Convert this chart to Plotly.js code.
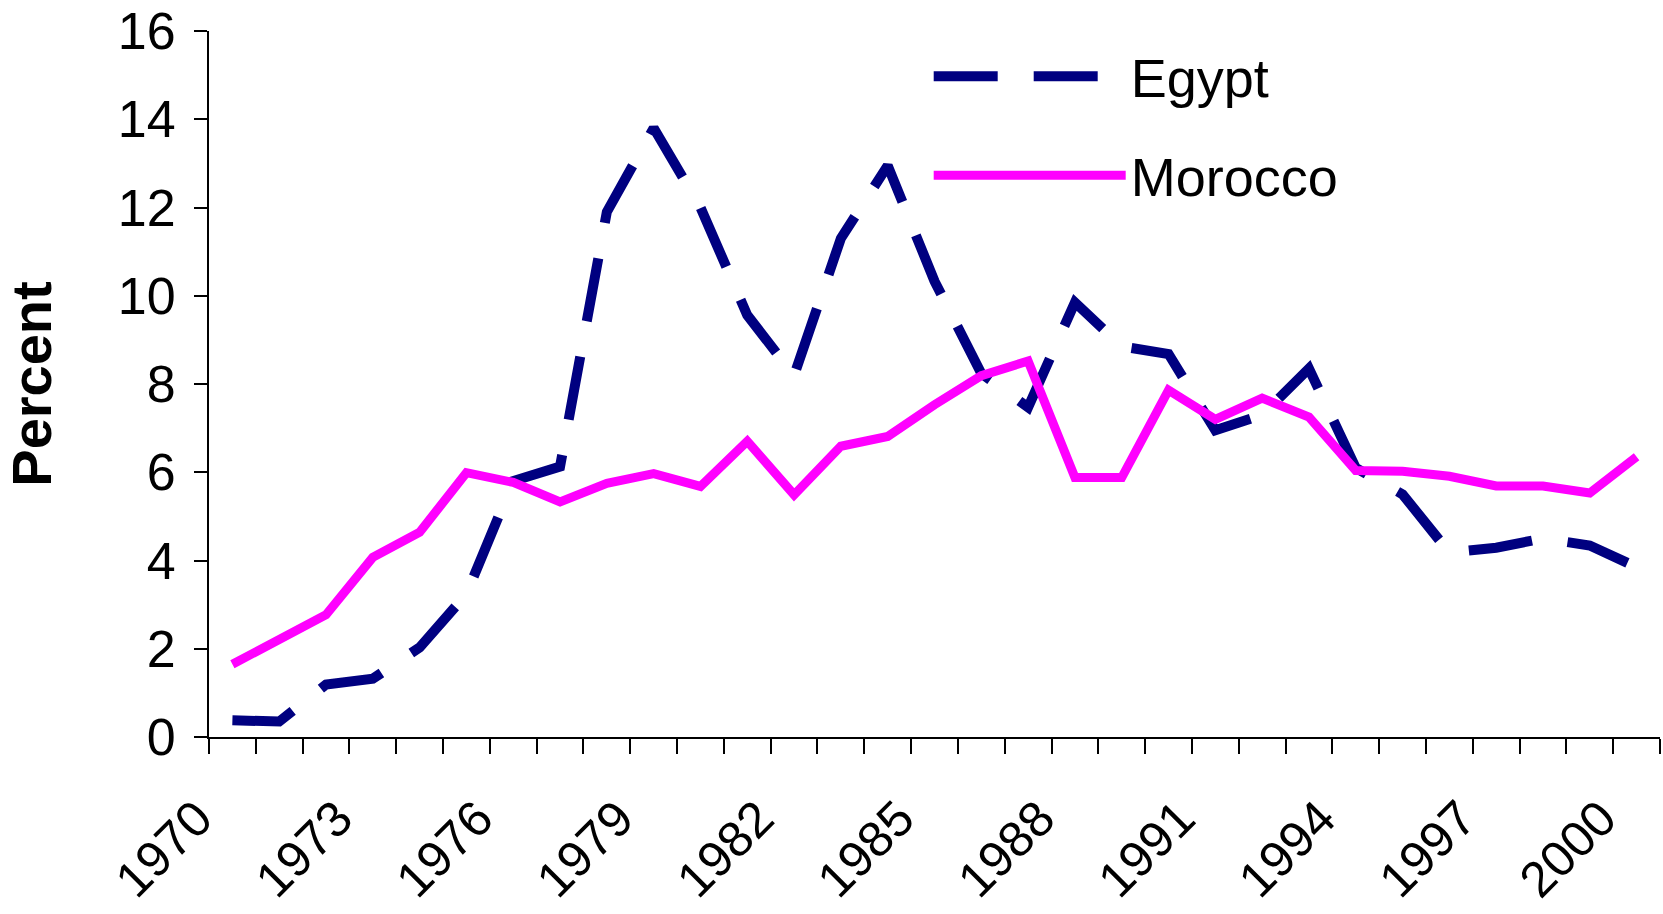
<!DOCTYPE html>
<html>
<head>
<meta charset="utf-8">
<script src="https://cdn.plot.ly/plotly-3.0.1.min.js"></script>
<style>html,body{margin:0;padding:0;background:#fff;}#chart{width:1663px;height:914px;}</style>
</head>
<body>
<div id="chart"></div>
<script>
const years = [1970,1971,1972,1973,1974,1975,1976,1977,1978,1979,1980,1981,1982,1983,1984,1985,1986,1987,1988,1989,1990,1991,1992,1993,1994,1995,1996,1997,1998,1999,2000];
const egypt = [0.38,0.35,1.19,1.32,2.03,3.24,5.8,6.13,11.9,13.8,12.0,9.56,8.19,11.3,12.95,10.33,8.24,7.47,9.85,8.85,8.68,6.95,7.3,8.35,6.1,5.5,4.18,4.29,4.5,4.34,3.85];
const morocco = [1.65,2.22,2.77,4.07,4.64,5.99,5.77,5.33,5.75,5.97,5.68,6.7,5.49,6.59,6.81,7.53,8.19,8.52,5.88,5.88,7.86,7.2,7.68,7.25,6.04,6.02,5.91,5.69,5.69,5.53,6.35];
const tickYears = years.filter((y, i) => i % 3 === 0);
const seriesNames = ['Egypt', 'Morocco'];

const FONT = 'Liberation Sans, Arial, sans-serif';

const traces = [
  {x: years, y: egypt, name: seriesNames[0], type: 'scatter', mode: 'lines',
   line: {color: '#000080', width: 10, dash: '64px,36px'}, legendgroup: 'a'},
  {x: years, y: morocco, name: seriesNames[1], type: 'scatter', mode: 'lines',
   line: {color: '#FF00FF', width: 9}, legendgroup: 'b'}
];

const layout = {
  width: 1663, height: 914,
  margin: {l: 209, r: 3, t: 31, b: 177},
  paper_bgcolor: '#fff', plot_bgcolor: '#fff',
  font: {family: FONT, color: '#000', size: 52},
  showlegend: true,
  legend: {x: 0.496, y: 0.995, xanchor: 'left', yanchor: 'top', bgcolor: 'rgba(0,0,0,0)',
           font: {family: FONT, size: 54, color: '#000'}, itemwidth: 192, tracegroupgap: 26,
           traceorder: 'grouped'},
  xaxis: {
    type: 'linear', range: [1969.5, 2000.5], tickmode: 'array', tickvals: tickYears,
    ticktext: tickYears.map(String), tickangle: -45, ticks: '', showgrid: false, zeroline: false,
    showline: true, linecolor: '#000', linewidth: 2,
    ticklabelstandoff: 30, ticklabelshift: -35,
    tickfont: {family: FONT, size: 50, color: '#000'},
    minor: {tick0: 1969.5, dtick: 1, ticks: 'outside', ticklen: 15, tickwidth: 2, tickcolor: '#000', showgrid: false}
  },
  yaxis: {
    range: [0, 16], dtick: 2, tick0: 0, ticks: 'outside', ticklen: 13, tickwidth: 2, tickcolor: '#000',
    showgrid: false, zeroline: false, showline: true, linecolor: '#000', linewidth: 2,
    ticklabelstandoff: 8,
    tickfont: {family: FONT, size: 52, color: '#000'},
    title: {text: '<b>Percent</b>', font: {family: FONT, size: 56, color: '#000'}, standoff: 60}
  }
};

Plotly.newPlot('chart', traces, layout, {displayModeBar: false, staticPlot: true});
</script>
</body>
</html>
